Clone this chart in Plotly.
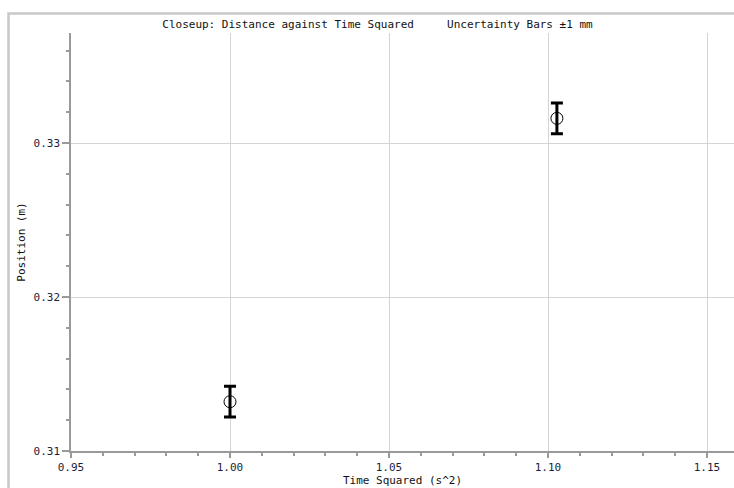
import plotly.graph_objects as go

# Data
time_squared = [1.000, 1.1028]
position = [0.3132, 0.3316]
uncertainty = [0.001, 0.001]

title_text = "Closeup: Distance against Time Squared\u00a0\u00a0\u00a0\u00a0\u00a0Uncertainty Bars \u00b11 mm"
x_title = "Time Squared (s^2)"
y_title = "Position (m)"

W, H = 734, 488
L, R, T, B = 71, 0, 33, 488 - 451

font = "DejaVu Sans Mono, monospace"
tick_color = "#1c1c3c"
axis_color = "#9a9a9a"
grid_color = "#d4d4d4"

fig = go.Figure()
fig.add_trace(go.Scatter(
    x=time_squared, y=position, mode="markers",
    marker=dict(symbol="circle-open", size=12, color="black", line=dict(width=1, color="black")),
    error_y=dict(type="data", array=uncertainty, visible=True, thickness=3, width=6, color="black"),
    showlegend=False,
))

def px_to_paper_x(px):
    return (px - L) / (W - L - R)

def py_to_paper_y(py):
    return (H - B - py) / (H - T - B)

frame_x0 = px_to_paper_x(8.5)
frame_y_top = py_to_paper_y(13.5)
frame_y_bot = py_to_paper_y(500)
frame_x1 = px_to_paper_x(760)

fig.add_shape(type="path", xref="paper", yref="paper",
              path=f"M {frame_x0} {frame_y_bot} L {frame_x0} {frame_y_top} L {frame_x1} {frame_y_top}",
              line=dict(color="#c8c8c8", width=2.5), layer="below")

fig.update_layout(
    width=W, height=H,
    margin=dict(l=L, r=R, t=T, b=B),
    paper_bgcolor="white", plot_bgcolor="white",
    title=dict(text=title_text, x=377.5 / W, xref="container", xanchor="center",
               y=1 - 24 / H, yref="container", yanchor="middle",
               font=dict(family=font, size=11, color="#111111")),
    font=dict(family=font, size=11, color=tick_color),
)

fig.update_xaxes(
    range=[0.95, 0.95 + 0.05 * (W - L - R) / 159.0],
    tick0=0.95, dtick=0.05, tickformat=".2f",
    ticks="outside", ticklen=5, tickwidth=1.5, tickcolor=axis_color,
    showline=True, linecolor=axis_color, linewidth=1.5,
    showgrid=True, gridcolor=grid_color, gridwidth=1,
    zeroline=False,
    minor=dict(dtick=0.01, tick0=0.95, ticks="outside", ticklen=3, tickcolor=axis_color, showgrid=False),
    title=dict(text=x_title, standoff=2, font=dict(family=font, size=11, color="#111111")),
    tickfont=dict(family=font, size=11, color=tick_color),
)

fig.update_yaxes(
    range=[0.31, 0.31 + 0.01 * (H - T - B) / 154.0],
    tick0=0.31, dtick=0.01, tickformat=".2f",
    ticks="outside", ticklen=7, tickwidth=1.5, tickcolor=axis_color,
    showline=True, linecolor=axis_color, linewidth=1.5,
    showgrid=True, gridcolor=grid_color, gridwidth=1,
    zeroline=False,
    minor=dict(dtick=0.002, tick0=0.31, ticks="outside", ticklen=3, tickcolor=axis_color, showgrid=False),
    title=dict(text=y_title, standoff=6, font=dict(family=font, size=11, color="#111111")),
    tickfont=dict(family=font, size=11, color=tick_color),
)

fig.write_html(
    "out.html",
    config={"displayModeBar": False},
    post_script="document.body.style.margin='0';document.body.style.overflow='hidden';",
)
